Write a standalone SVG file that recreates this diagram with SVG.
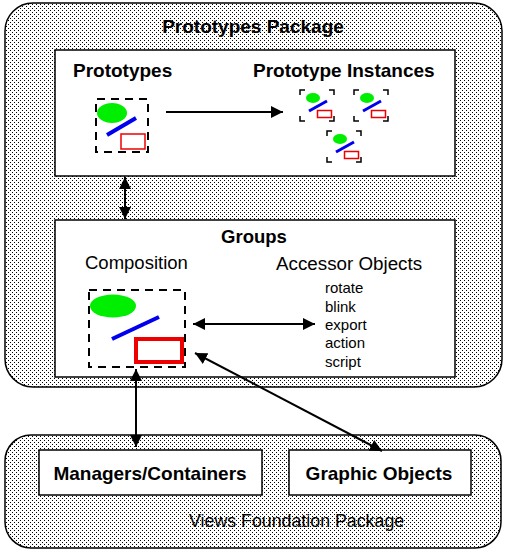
<svg xmlns="http://www.w3.org/2000/svg" width="507" height="553" viewBox="0 0 507 553">
<defs>
<pattern id="dots" width="4" height="4" patternUnits="userSpaceOnUse">
<rect width="4" height="4" fill="#fff"/>
<rect x="0" y="0" width="1" height="1" fill="#000"/>
<rect x="2" y="2" width="1" height="1" fill="#000"/>
</pattern>
<marker id="ah" viewBox="0 0 10 10" refX="10" refY="5" markerWidth="12" markerHeight="12" markerUnits="userSpaceOnUse" orient="auto-start-reverse">
<path d="M0,0 L10,5 L0,10 Z" fill="#000"/>
</marker>
<g id="mini">
<path d="M0,5 V0 H5 M29,0 H34 V5 M34,26 V31 H29 M5,31 H0 V26" fill="none" stroke="#000" stroke-width="1.5"/>
<ellipse cx="13" cy="8" rx="7" ry="5" fill="#00ee00"/>
<line x1="9" y1="21" x2="27" y2="11" stroke="#0000ee" stroke-width="3"/>
<rect x="17.5" y="20.5" width="14" height="7" fill="none" stroke="#ee0000" stroke-width="1.5"/>
</g>
</defs>
<style>
text{font-family:"Liberation Sans",Arial,sans-serif;fill:#000}
.b{font-weight:bold}
.pkg{fill:url(#dots);stroke:#000;stroke-width:1.5}
.box{fill:#fff;stroke:#000;stroke-width:1.5}
.dash{fill:none;stroke:#000;stroke-width:2;stroke-dasharray:8,6}
.conn{stroke:#000;stroke-width:2;fill:none}
</style>

<g id="prototypes-package">
<rect class="pkg" x="5" y="3" width="497" height="384" rx="28" ry="28"/>
<text class="b" x="253" y="33" font-size="19" text-anchor="middle">Prototypes Package</text>
</g>

<g id="views-foundation-package">
<rect class="pkg" x="5" y="435" width="496" height="113" rx="26" ry="26"/>
<text x="189" y="527" font-size="17.8">Views Foundation Package</text>
</g>

<g id="prototypes-box">
<rect class="box" x="55" y="50" width="400" height="126"/>
<text class="b" x="73" y="77" font-size="19">Prototypes</text>
<text class="b" x="253" y="77" font-size="19">Prototype Instances</text>
</g>

<g id="prototype">
<rect class="dash" x="96" y="99" width="52" height="53" stroke-dashoffset="-1"/>
<ellipse cx="112" cy="113" rx="15" ry="10" fill="#00ee00"/>
<line x1="107" y1="135" x2="136" y2="118" stroke="#0000ee" stroke-width="4"/>
<rect x="121" y="134" width="24" height="15" fill="none" stroke="#ee0000" stroke-width="1.5"/>
</g>

<g id="instance-1"><use href="#mini" x="300" y="90"/></g>
<g id="instance-2"><use href="#mini" x="354" y="90"/></g>
<g id="instance-3"><use href="#mini" x="327" y="131"/></g>

<g id="groups-box">
<rect class="box" x="55" y="220" width="400" height="157"/>
<text class="b" x="254" y="243" font-size="18.5" text-anchor="middle">Groups</text>
<text x="85" y="269" font-size="18.5">Composition</text>
<text x="276" y="270" font-size="18.8">Accessor Objects</text>
</g>

<g id="composition">
<rect class="dash" x="89" y="290" width="96" height="77"/>
<ellipse cx="113" cy="306" rx="23" ry="11.5" fill="#00ee00"/>
<line x1="112" y1="339" x2="159" y2="317" stroke="#0000ee" stroke-width="4"/>
<rect x="136" y="339" width="46" height="23" fill="none" stroke="#ee0000" stroke-width="4"/>
</g>

<g id="accessor-objects">
<text x="325" y="293" font-size="15">rotate</text>
<text x="325" y="312" font-size="15">blink</text>
<text x="325" y="330" font-size="15">export</text>
<text x="325" y="348" font-size="15">action</text>
<text x="325" y="367" font-size="15">script</text>
</g>

<g id="managers-containers">
<rect class="box" x="39" y="450" width="223" height="45"/>
<text class="b" x="150" y="480" font-size="19" text-anchor="middle">Managers/Containers</text>
</g>

<g id="graphic-objects">
<rect class="box" x="289" y="450" width="182" height="45"/>
<text class="b" x="379" y="480" font-size="19" text-anchor="middle">Graphic Objects</text>
</g>

<g id="connectors">
<line class="conn" x1="166" y1="112" x2="283" y2="112" marker-end="url(#ah)"/>
<line class="conn" x1="125" y1="177" x2="125" y2="219" marker-start="url(#ah)" marker-end="url(#ah)"/>
<line class="conn" x1="193" y1="324" x2="315" y2="324" marker-start="url(#ah)" marker-end="url(#ah)"/>
<line class="conn" x1="136" y1="369" x2="136" y2="447" marker-start="url(#ah)" marker-end="url(#ah)"/>
<line class="conn" x1="195" y1="353" x2="382" y2="451" marker-start="url(#ah)" marker-end="url(#ah)"/>
</g>
</svg>
